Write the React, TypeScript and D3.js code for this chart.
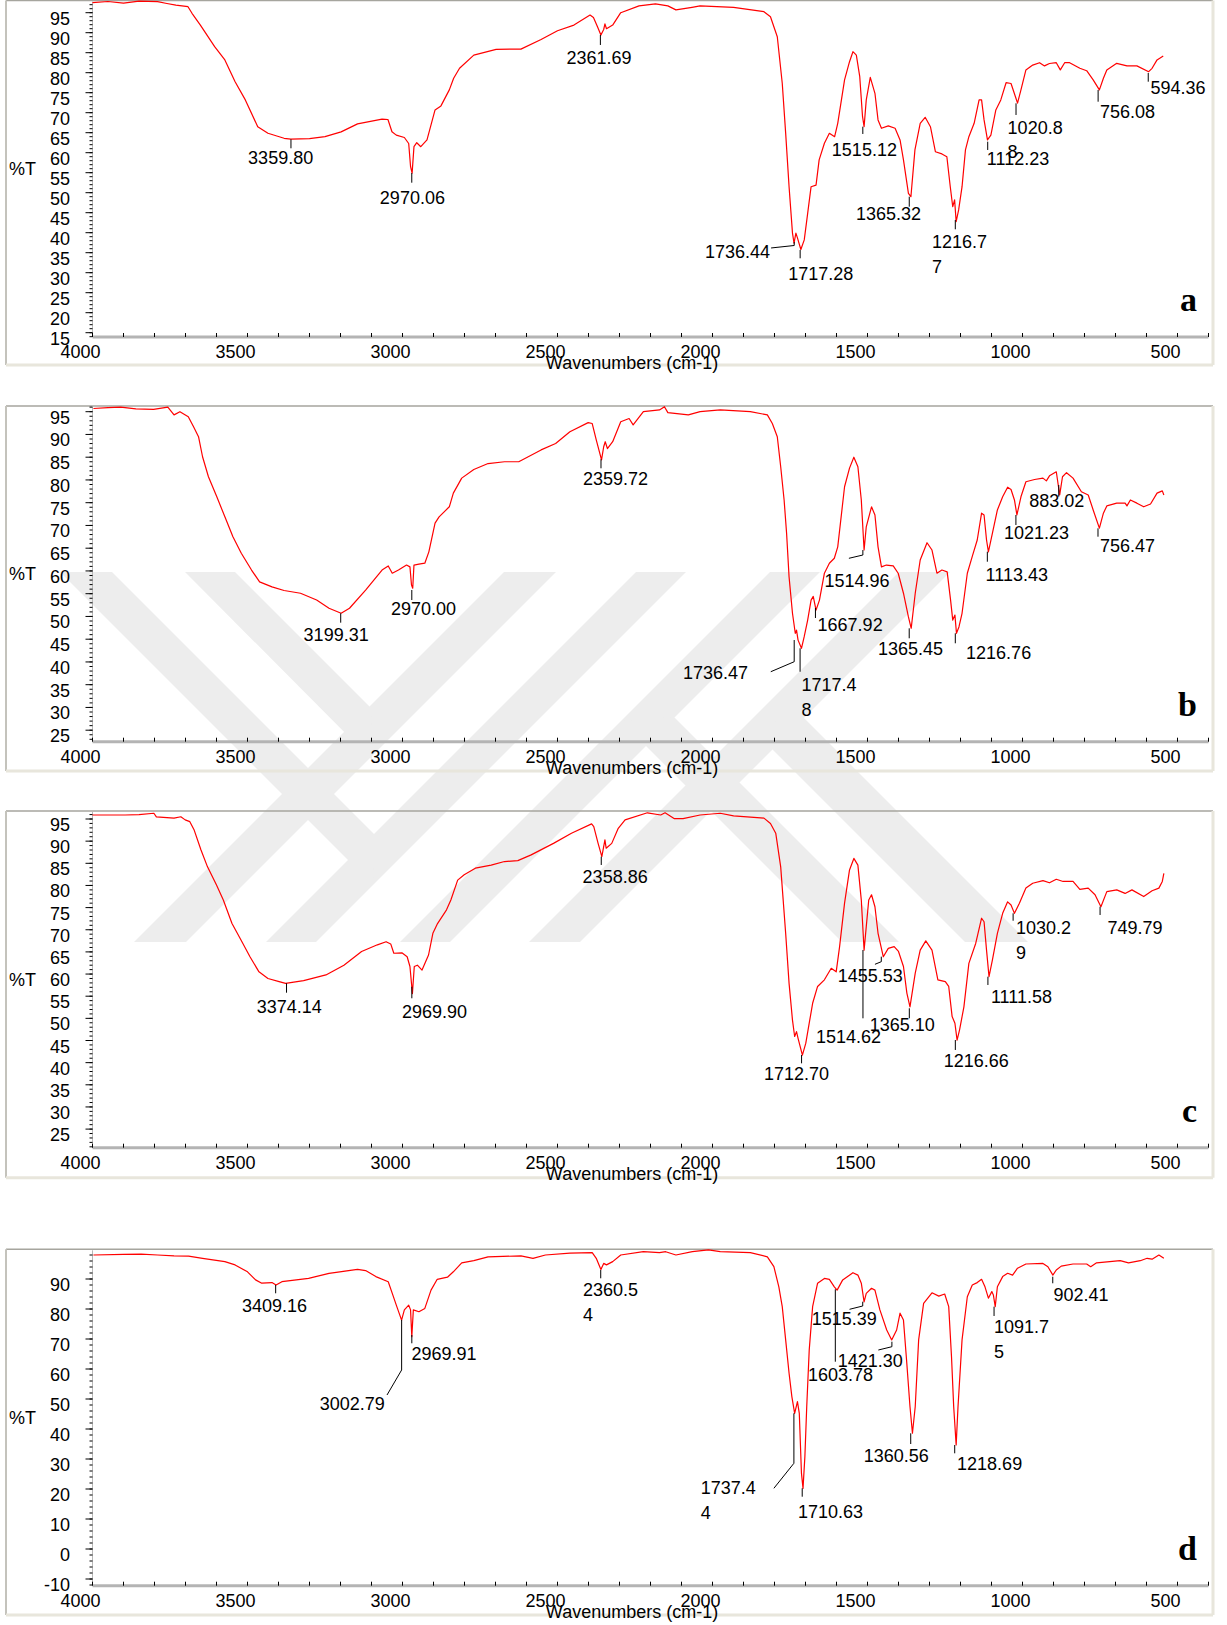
import React from 'react';
import * as d3 from 'd3';

// FTIR spectra a-d, %T against wavenumber (cm-1)

const SANS = '"Liberation Sans", Arial, Helvetica, sans-serif';
const SERIF = '"Liberation Serif", "Times New Roman", serif';

const X_LABELS = [4000, 3500, 3000, 2500, 2000, 1500, 1000, 500];
const TICKS_A = [15, 20, 25, 30, 35, 40, 45, 50, 55, 60, 65, 70, 75, 80, 85, 90, 95];
const TICKS_BC = [25, 30, 35, 40, 45, 50, 55, 60, 65, 70, 75, 80, 85, 90, 95];
const TICKS_D = [-10, 0, 10, 20, 30, 40, 50, 60, 70, 80, 90];

const SPEC_A = [
  [4000, 97.5], [3950, 97.8], [3900, 97.4], [3850, 97.9], [3790, 97.75], [3760, 97.3], [3731, 96.9], [3692, 96.5],
  [3679, 94.85], [3652, 91.9], [3606, 86.5], [3573, 83.2], [3540, 77.75], [3507, 73.2], [3467, 66.5], [3434, 64.85],
  [3382, 63.6], [3360, 63.4], [3300, 63.5], [3250, 64], [3198, 65.2], [3145, 67.2], [3066, 68.4], [3047, 68.3],
  [3034, 65.25], [3020, 64.4], [2994, 63.8], [2980, 62.3], [2974, 56.5], [2969, 54.9], [2963, 61.5], [2954, 62.5],
  [2941, 61.5], [2921, 63.2], [2895, 70.7], [2876, 71.7], [2849, 75.7], [2835, 78.6], [2816, 81.1], [2770, 84.4],
  [2698, 85.85], [2618, 85.9], [2553, 88.3], [2500, 90.5], [2447, 91.9], [2395, 94.4], [2384, 93.8], [2371, 91.5],
  [2360, 89.4], [2351, 90.8], [2347, 92.2], [2342, 91], [2322, 91.9], [2296, 95], [2237, 96.7], [2184, 97.2],
  [2144, 96.7], [2118, 95.7], [2066, 96.35], [2040, 96.7], [1932, 96.35], [1834, 95.25], [1813, 94], [1791, 89],
  [1775, 77.35], [1764, 64.9], [1753, 51.5], [1742, 39.9], [1737, 37.4], [1731, 39.9], [1726, 38.7], [1715, 35.8],
  [1704, 38.2], [1693, 44.85], [1682, 51.5], [1666, 51.9], [1656, 58.2], [1639, 62.35], [1623, 64.85], [1606, 64],
  [1596, 67.35], [1574, 78.2], [1558, 82.75], [1547, 85.25], [1536, 84.4], [1525, 79], [1516, 69], [1511, 66.5],
  [1504, 73.2], [1491, 78.85], [1476, 74.85], [1466, 68.2], [1455, 66.1], [1433, 66.7], [1411, 66.1], [1395, 63.2],
  [1384, 58.2], [1368, 49.85], [1360, 49], [1347, 60.7], [1330, 67.35], [1314, 68.85], [1297, 66.5], [1281, 60.25],
  [1260, 59.7], [1244, 59], [1233, 51.5], [1225, 46.5], [1219, 48.2], [1214, 42.75], [1206, 45.7], [1195, 51.5],
  [1184, 60.7], [1173, 64], [1156, 67.35], [1140, 73.2], [1132, 73.2], [1124, 68.2], [1113, 63.2], [1102, 64.4],
  [1086, 70.7], [1070, 73.2], [1053, 77.5], [1037, 77.3], [1016, 72.4], [1005, 75.7], [989, 80.7], [967, 81.9],
  [945, 82.5], [929, 81.7], [913, 82.3], [891, 82.5], [878, 80.7], [864, 82.5], [848, 82.5], [815, 81.1],
  [793, 80.5], [772, 78.2], [752, 75.7], [739, 78.6], [728, 80.7], [696, 82.35], [663, 81.7], [631, 81.7],
  [593, 80.25], [582, 81.1], [566, 83.2], [546, 84.2],
];

const SPEC_B = [
  [3997, 95.7], [3950, 95.9], [3909, 96], [3860, 95.6], [3803, 95.5], [3757, 96], [3737, 94.3], [3718, 95],
  [3691, 93.9], [3674, 91.7], [3658, 89.5], [3645, 85.1], [3626, 80.7], [3599, 76.3], [3573, 71.9], [3547, 67.5],
  [3520, 63.9], [3487, 60.2], [3461, 57.6], [3421, 56.5], [3382, 55.7], [3329, 55.1], [3277, 53.6], [3237, 51.8],
  [3198, 50.7], [3171, 51.8], [3119, 55.8], [3066, 60.2], [3046, 61.1], [3033, 59.5], [3013, 60.2], [2987, 61.3],
  [2976, 60.9], [2971, 56.9], [2967, 56.2], [2963, 61.3], [2947, 61.5], [2928, 61.7], [2915, 64.2], [2895, 70.5],
  [2882, 71.9], [2849, 74.1], [2836, 77.1], [2809, 80.4], [2770, 82.3], [2724, 83.6], [2671, 84], [2625, 84],
  [2553, 86.6], [2506, 88], [2460, 90.6], [2401, 92.6], [2388, 92.4], [2375, 88.8], [2358, 84.4], [2351, 87.3],
  [2346, 88.4], [2339, 86.9], [2322, 88.4], [2296, 92.8], [2269, 93.5], [2256, 92.1], [2223, 95], [2171, 95.4],
  [2155, 96.1], [2144, 94.8], [2078, 94.3], [2040, 95], [1975, 95.4], [1878, 95], [1823, 94.3], [1807, 92.4],
  [1791, 89.5], [1780, 82.9], [1769, 75.6], [1761, 68.3], [1753, 58.7], [1742, 50.7], [1733, 46.3], [1729, 47],
  [1724, 44.8], [1713, 43], [1704, 45.6], [1693, 49.2], [1682, 53.6], [1675, 54.4], [1666, 51.4], [1655, 53.6],
  [1639, 59.5], [1623, 61.7], [1607, 62.8], [1596, 65.3], [1574, 78.5], [1558, 82.6], [1544, 85], [1531, 82.9],
  [1520, 75.6], [1511, 64.6], [1504, 69.7], [1487, 74.1], [1476, 72.3], [1466, 65.3], [1455, 60.9], [1439, 61.3],
  [1417, 61.1], [1401, 59.5], [1384, 55.1], [1368, 49.9], [1359, 47.4], [1346, 55.1], [1330, 62.4], [1308, 66.2],
  [1292, 64.6], [1276, 59.5], [1260, 60.2], [1243, 59.8], [1232, 53.6], [1225, 49.2], [1218, 50.3], [1213, 46.3],
  [1205, 47.7], [1195, 50.7], [1178, 59.5], [1162, 63.2], [1146, 66.8], [1132, 72.7], [1124, 72.3], [1116, 66.8],
  [1110, 64.2], [1097, 68.3], [1081, 73.4], [1064, 76.3], [1048, 78.4], [1037, 77.9], [1026, 75.6], [1018, 72.3],
  [1005, 76.3], [989, 79.6], [961, 80.1], [934, 80.4], [923, 79.8], [913, 80.9], [891, 81.8], [880, 76.7],
  [871, 80.7], [858, 81.6], [837, 80.4], [810, 77.4], [788, 76.7], [772, 73.4], [752, 69.4], [739, 72.7],
  [728, 74.3], [696, 74.9], [669, 74.9], [663, 74.3], [652, 75.6], [631, 74.9], [609, 74.1], [587, 74.7],
  [566, 77.1], [549, 77.6], [544, 76.7],
];

const SPEC_C = [
  [4000, 95.9], [3895, 95.9], [3850, 96], [3802, 96.3], [3794, 95.5], [3737, 95.2], [3715, 95.5], [3701, 94.8],
  [3686, 94.4], [3672, 92.5], [3650, 88], [3629, 84.2], [3600, 80.1], [3578, 76.7], [3550, 71.4], [3521, 67.7],
  [3492, 63.9], [3463, 60.5], [3434, 59], [3398, 58.3], [3377, 57.9], [3319, 58.5], [3247, 59.8], [3189, 62],
  [3132, 65.1], [3081, 66.6], [3053, 67.3], [3038, 66.8], [3028, 64.7], [3002, 64.8], [2985, 63.9], [2976, 61.7],
  [2971, 57.9], [2968, 55.6], [2962, 61.7], [2952, 62], [2937, 60.9], [2916, 64.3], [2902, 69.2], [2887, 71.4],
  [2858, 74.5], [2844, 76.7], [2822, 81.2], [2801, 82.4], [2765, 83.9], [2714, 84.6], [2671, 85.4], [2628, 85.6],
  [2585, 86.9], [2513, 89.5], [2455, 91.8], [2390, 93.9], [2383, 93.3], [2369, 89.5], [2357, 86.5], [2347, 90.3],
  [2343, 88.4], [2325, 89.5], [2304, 92.9], [2282, 94.8], [2210, 96.4], [2167, 95.9], [2153, 96.4], [2124, 95.1],
  [2095, 95.1], [2040, 95.9], [1975, 96.3], [1932, 95.7], [1834, 95.2], [1813, 94], [1796, 91.8], [1780, 84.2],
  [1764, 69.2], [1753, 57.9], [1742, 49.6], [1735, 45.9], [1729, 47], [1724, 45.5], [1710, 41.7], [1699, 44.4],
  [1688, 48.9], [1677, 53.4], [1661, 57.2], [1639, 58.7], [1617, 61.3], [1601, 60.5], [1590, 66.2], [1574, 76],
  [1558, 83.5], [1544, 86.1], [1531, 84.6], [1520, 76.7], [1511, 65.4], [1504, 70.7], [1496, 76.7], [1487, 77.9],
  [1476, 75.2], [1466, 69.2], [1449, 63.9], [1433, 65.8], [1414, 66.2], [1400, 65.1], [1384, 61.7], [1373, 55.7],
  [1363, 52.6], [1346, 60.2], [1330, 65.4], [1312, 67.5], [1292, 65.4], [1273, 58.7], [1249, 58.3], [1238, 57.2],
  [1227, 50.4], [1218, 48.9], [1211, 45.1], [1203, 47.4], [1189, 52.6], [1173, 62.4], [1151, 66.9], [1132, 72.6],
  [1124, 71.8], [1116, 65.4], [1108, 59.4], [1097, 63.2], [1081, 69.2], [1064, 73.7], [1048, 76.3], [1037, 75.6],
  [1026, 73.7], [1010, 76], [989, 79.4], [967, 80.5], [934, 81.1], [913, 80.6], [891, 81.4], [869, 80.9],
  [837, 80.9], [815, 79.1], [788, 79.4], [766, 77.9], [747, 75.2], [728, 78.6], [696, 79], [669, 78.2],
  [647, 79], [609, 77.5], [582, 78.8], [560, 79.4], [549, 80.9], [544, 82.7],
];

const SPEC_D = [
  [3997, 98], [3900, 98.2], [3843, 98.3], [3790, 98], [3737, 97.7], [3690, 97.6], [3645, 96.9], [3573, 95.8],
  [3540, 94.7], [3500, 92.4], [3474, 89.7], [3454, 88.6], [3421, 88.8], [3408, 88], [3389, 89.1], [3303, 90.2],
  [3237, 91.9], [3145, 93.2], [3119, 92.8], [3086, 90.8], [3046, 89.1], [3033, 85.2], [3020, 81.3], [3003, 76.3],
  [2994, 79.7], [2980, 81.3], [2974, 79.7], [2970, 70.8], [2965, 79.7], [2947, 79.1], [2928, 80.2], [2908, 86.3],
  [2888, 89.9], [2855, 90.6], [2836, 92.4], [2809, 95.4], [2770, 96.1], [2724, 97.4], [2618, 97.7], [2579, 96.9],
  [2539, 98], [2460, 98.6], [2388, 98.8], [2375, 96.9], [2360, 93.2], [2351, 95.2], [2342, 94.7], [2322, 95.8],
  [2296, 98], [2223, 99.1], [2171, 98.8], [2151, 99.1], [2118, 98], [2065, 99.1], [2013, 99.7], [1975, 99.1],
  [1878, 98.8], [1823, 97.4], [1802, 94.1], [1786, 87.4], [1775, 80.8], [1764, 69.7], [1753, 58.6], [1744, 50.8],
  [1735, 45.2], [1726, 49.1], [1720, 45.2], [1713, 25.2], [1708, 20.2], [1702, 30.8], [1696, 47.5], [1688, 66.3],
  [1677, 80.8], [1661, 88.6], [1639, 90.2], [1623, 89.9], [1607, 87.4], [1598, 86.3], [1580, 89.7], [1547, 92.1],
  [1531, 91.3], [1520, 88.6], [1511, 82.4], [1504, 85.2], [1487, 86.9], [1476, 86.3], [1460, 79.7], [1438, 73],
  [1422, 69.7], [1406, 73], [1395, 78.6], [1384, 76.3], [1374, 63], [1363, 47.5], [1355, 38.6], [1346, 47.5],
  [1335, 69.7], [1319, 81.9], [1292, 85.4], [1270, 84.3], [1251, 85], [1238, 80.8], [1229, 64.1], [1222, 47.5],
  [1214, 34.7], [1208, 47.5], [1195, 69.7], [1178, 84.1], [1162, 88], [1146, 88.8], [1132, 89.9], [1121, 87.4],
  [1110, 83.6], [1099, 85.8], [1094, 84.7], [1088, 80.8], [1081, 87.4], [1064, 90.8], [1048, 91.9], [1032, 91.3],
  [1016, 93.6], [989, 95], [934, 95.2], [918, 94.1], [902, 91.3], [891, 93], [875, 94.3], [837, 95],
  [793, 95], [780, 94.1], [761, 95.4], [685, 96.1], [658, 95.4], [620, 96.1], [598, 96.9], [582, 96.6],
  [560, 98], [544, 96.9],
];

// peak labels: text lines, marker path [wavenumber, %T], label anchor [wavenumber, %T]
const NOTES_A = [
  { label: ['3359.80'], path: [[3359.8, 63.35], [3359.8, 61.1]], at: [3498, 57.18] },
  { label: ['2970.06'], path: [[2970.06, 54.93], [2970.06, 52.5]], at: [3073, 47.18] },
  { label: ['2361.69'], path: [[2361.69, 89.43], [2361.69, 86.93]], at: [2471, 82.18] },
  { label: ['1736.44'], path: [[1736.44, 37.68], [1736.44, 36.8], [1811, 36.18]], at: [2024, 33.75] },
  { label: ['1717.28'], path: [[1717.28, 35.68], [1717.28, 33.6]], at: [1756, 28.18] },
  { label: ['1515.12'], path: [[1515.12, 66.5], [1515.12, 64.68]], at: [1615, 59.18] },
  { label: ['1365.32'], path: [[1365.32, 49], [1365.32, 46.5]], at: [1537, 43.18] },
  { label: ['1216.7', '7'], path: [[1216.77, 43.18], [1216.77, 40.85]], at: [1292, 36.1] },
  { label: ['1112.23'], path: [[1112.23, 62.75], [1112.23, 60.68]], at: [1115, 56.93] },
  { label: ['1020.8', '8'], path: [[1020.88, 72.35], [1020.88, 69.43]], at: [1048, 64.75] },
  { label: ['756.08'], path: [[756.08, 75.68], [756.08, 72.75]], at: [750, 68.75] },
  { label: ['594.36'], path: [[594.36, 79.93], [594.36, 77.75]], at: [587, 74.6] },
];

const NOTES_B = [
  { label: ['3199.31'], path: [[3199.31, 50.69], [3199.31, 48.63]], at: [3319, 44.6] },
  { label: ['2970.00'], path: [[2970, 55.81], [2970, 53.61]], at: [3037, 50.25] },
  { label: ['2359.72'], path: [[2359.72, 84.54], [2359.72, 82.56]], at: [2418, 78.82] },
  { label: ['1736.47'], path: [[1736.47, 44.82], [1736.47, 40.05], [1812, 37.85]], at: [2095, 36.34] },
  { label: ['1717.4', '8'], path: [[1717.48, 43], [1717.48, 37.85]], at: [1713, 33.6] },
  { label: ['1667.92'], path: [[1667.92, 51.86], [1667.92, 49.66]], at: [1661, 46.8] },
  { label: ['1514.96'], path: [[1514.96, 64.6], [1514.96, 63.5], [1560, 62.78]], at: [1639, 56.47] },
  { label: ['1365.45'], path: [[1365.45, 47.39], [1365.45, 45.2]], at: [1466, 41.5] },
  { label: ['1216.76'], path: [[1216.76, 46.3], [1216.76, 44.1]], at: [1182, 40.7] },
  { label: ['1113.43'], path: [[1113.43, 64.23], [1113.43, 62.03]], at: [1119, 57.79] },
  { label: ['1021.23'], path: [[1021.23, 72.3], [1021.23, 70.1]], at: [1060, 67.09] },
  { label: ['883.02'], path: [[883.02, 78.89], [883.02, 76.32]], at: [978, 74.12] },
  { label: ['756.47'], path: [[756.47, 69.37], [756.47, 67.53]], at: [750, 64.23] },
];

const NOTES_C = [
  { label: ['3374.14'], path: [[3374.14, 57.91], [3374.14, 55.79]], at: [3470, 51.27] },
  { label: ['2969.90'], path: [[2969.9, 57.14], [2969.9, 54.53]], at: [3002, 50.15] },
  { label: ['2358.86'], path: [[2358.86, 86.49], [2358.86, 84.62]], at: [2419, 80.49] },
  { label: ['1712.70'], path: [[1712.7, 41.73], [1712.7, 39.85]], at: [1834, 36.08] },
  { label: ['1514.62'], path: [[1514.62, 65.43], [1514.62, 50.01]], at: [1666, 44.37] },
  { label: ['1455.53'], path: [[1455.53, 63.92], [1455.53, 62.79], [1476, 62.2]], at: [1596, 58.27] },
  { label: ['1365.10'], path: [[1365.1, 52.27], [1365.1, 50.01]], at: [1493, 47.14] },
  { label: ['1216.66'], path: [[1216.66, 45.11], [1216.66, 42.86]], at: [1254, 39.09] },
  { label: ['1111.58'], path: [[1111.58, 59.4], [1111.58, 57.53]], at: [1102, 53.53] },
  { label: ['1030.2', '9'], path: [[1030.29, 73.71], [1030.29, 72.04]], at: [1021, 68.97] },
  { label: ['749.79'], path: [[749.79, 75.2], [749.79, 73.33]], at: [726, 69.11] },
];

const NOTES_D = [
  { label: ['3409.16'], path: [[3409.16, 88], [3409.16, 85.23]], at: [3518, 79.1] },
  { label: ['3002.79'], path: [[3002.79, 76.33], [3002.79, 59.67], [3050, 51.33]], at: [3267, 46.33] },
  { label: ['2969.91'], path: [[2969.91, 71.33], [2969.91, 68.57]], at: [2971, 63] },
  { label: ['2360.5', '4'], path: [[2360.54, 93], [2360.54, 90.23]], at: [2418, 84.33] },
  { label: ['1737.4', '4'], path: [[1737.44, 45.23], [1737.44, 28.57], [1802, 20.23]], at: [2038, 18.23] },
  { label: ['1710.63'], path: [[1710.63, 20.23], [1710.63, 17.43]], at: [1724, 10.43] },
  { label: ['1603.78'], path: [[1603.78, 86.57], [1603.78, 62.43]], at: [1692, 56] },
  { label: ['1515.39'], path: [[1515.39, 82.43], [1515.39, 81], [1558, 79.9]], at: [1680, 74.67] },
  { label: ['1421.30'], path: [[1421.3, 69.1], [1421.3, 67.43], [1465, 66.33]], at: [1596, 60.77] },
  { label: ['1360.56'], path: [[1360.56, 38.57], [1360.56, 35]], at: [1512, 29] },
  { label: ['1218.69'], path: [[1218.69, 34.67], [1218.69, 31.9]], at: [1211, 26.33] },
  { label: ['1091.7', '5'], path: [[1091.75, 80.77], [1091.75, 77.67]], at: [1092, 71.9] },
  { label: ['902.41'], path: [[902.41, 90.77], [902.41, 88.57]], at: [900, 82.67] },
];

const PANELS = [
  { name: 'a', spec: SPEC_A, notes: NOTES_A, ticks: TICKS_A, minor: 1, yDomain: [95, 15], yRange: [12.7, 332.7], axisY: 337, top: 0.5, bottom: 365 },
  { name: 'b', spec: SPEC_B, notes: NOTES_B, ticks: TICKS_BC, minor: 1, yDomain: [95, 25], yRange: [411.7, 730.2], axisY: 741.7, top: 406, bottom: 771 },
  { name: 'c', spec: SPEC_C, notes: NOTES_C, ticks: TICKS_BC, minor: 1, yDomain: [95, 25], yRange: [819, 1129.1], axisY: 1147.7, top: 811, bottom: 1177.7 },
  { name: 'd', spec: SPEC_D, notes: NOTES_D, ticks: TICKS_D, minor: 2, yDomain: [90, -10], yRange: [1279, 1579], axisY: 1585.7, top: 1249.3, bottom: 1615 },
];

// light grey thesis watermark behind panels b and c (45 degree stripes)
const WATERMARK = [
  [[504, 572], [556, 572], [186, 942], [134, 942]],
  [[636, 572], [686, 572], [316, 942], [266, 942]],
  [[770, 572], [820, 572], [450, 942], [400, 942]],
  [[899, 572], [950, 572], [580, 942], [529, 942]],
  [[185, 572], [235, 572], [371, 708], [372, 760]],
  [[60, 572], [112, 572], [374, 834], [373, 885]],
  [[674, 717], [621, 721], [842, 942], [899, 942]],
  [[804, 718], [747, 724], [965, 942], [1028, 942]],
];

const FRAME_L = 6;
const FRAME_R = 1213;

const x = d3.scaleLinear().domain([4000, 400]).range([92.5, 1208.5]);
const minorX = d3.range(4000, 399, -100);

function Panel({ p }) {
  const y = d3.scaleLinear().domain(p.yDomain).range(p.yRange);
  const line = d3.line().x(d => x(d[0])).y(d => y(d[1]));
  const yTop = y.invert(p.top + 1);
  const yBot = y.invert(p.axisY);
  const minorY = d3.range(Math.ceil(yBot / p.minor) * p.minor, yTop, p.minor);
  const mid = (p.top + p.axisY) / 2;

  return (
    <g>
      {/* frame */}
      <line x1={FRAME_L} x2={FRAME_R} y1={p.top} y2={p.top} stroke="#a6a59e" strokeWidth={1.5} />
      <line x1={FRAME_L} x2={FRAME_L} y1={p.top} y2={p.bottom} stroke="#c4c3bc" strokeWidth={2} />
      <line x1={FRAME_R} x2={FRAME_R} y1={p.top} y2={p.bottom} stroke="#e8e6dc" strokeWidth={3} />
      <line x1={FRAME_L} x2={FRAME_R} y1={p.bottom} y2={p.bottom} stroke="#e8e6dc" strokeWidth={3} />

      {/* y axis */}
      <line x1={x(4000)} x2={x(4000)} y1={p.top + 1} y2={p.axisY} stroke="#b8b8b8" strokeWidth={1} />
      {minorY.map(v => (
        <line key={'m' + v} x1={x(4000) - 3} x2={x(4000)} y1={y(v)} y2={y(v)} stroke="#000" strokeWidth={1} />
      ))}
      {p.ticks.map(v => (
        <g key={'t' + v}>
          <line x1={x(4000) - 7} x2={x(4000)} y1={y(v)} y2={y(v)} stroke="#000" strokeWidth={1} />
          <text x={70} y={y(v) + 12} textAnchor="end" fontFamily={SANS} fontSize={18} fill="#000">{v}</text>
        </g>
      ))}
      <text x={9} y={mid + 6.5} fontFamily={SANS} fontSize={18} fill="#000">%T</text>

      {/* x axis */}
      <line x1={x(4000)} x2={x(400)} y1={p.axisY} y2={p.axisY} stroke="#b4b4b4" strokeWidth={3} />
      {minorX.map(w => (
        <line key={'x' + w} x1={x(w)} x2={x(w)} y1={p.axisY - 4} y2={p.axisY} stroke="#000" strokeWidth={1} />
      ))}
      {X_LABELS.map(w => (
        <text key={'xl' + w} x={x(w) - 12} y={p.axisY + 21} textAnchor="middle" fontFamily={SANS} fontSize={18} fill="#000">{w}</text>
      ))}
      <text x={632} y={p.axisY + 32} textAnchor="middle" fontFamily={SANS} fontSize={18} fill="#000">Wavenumbers (cm-1)</text>

      {/* spectrum */}
      <path d={line(p.spec)} fill="none" stroke="#ff0000" strokeWidth={1.2} strokeLinejoin="round" />

      {/* peak labels */}
      {p.notes.map((n, i) => (
        <g key={'n' + i}>
          <path d={line(n.path)} fill="none" stroke="#000" strokeWidth={1} />
          {n.label.map((t, j) => (
            <text key={j} x={x(n.at[0])} y={y(n.at[1]) + j * 24.5} fontFamily={SANS} fontSize={18} fill="#000">{t}</text>
          ))}
        </g>
      ))}

      <text x={1197} y={p.axisY - 26} textAnchor="end" fontFamily={SERIF} fontWeight="bold" fontSize={34} fill="#000">{p.name}</text>
    </g>
  );
}

export default function App() {
  return (
    <div style={{ position: 'absolute', left: 0, top: 0 }}>
      <svg width={1227} height={1625} viewBox="0 0 1227 1625" style={{ display: 'block', background: '#fff' }}>
        <rect x={0} y={0} width={1227} height={1625} fill="#fff" />
        {WATERMARK.map((poly, i) => (
          <polygon key={i} points={poly.map(pt => pt.join(',')).join(' ')} fill="#ededed" />
        ))}
        {PANELS.map(p => <Panel key={p.name} p={p} />)}
      </svg>
    </div>
  );
}
